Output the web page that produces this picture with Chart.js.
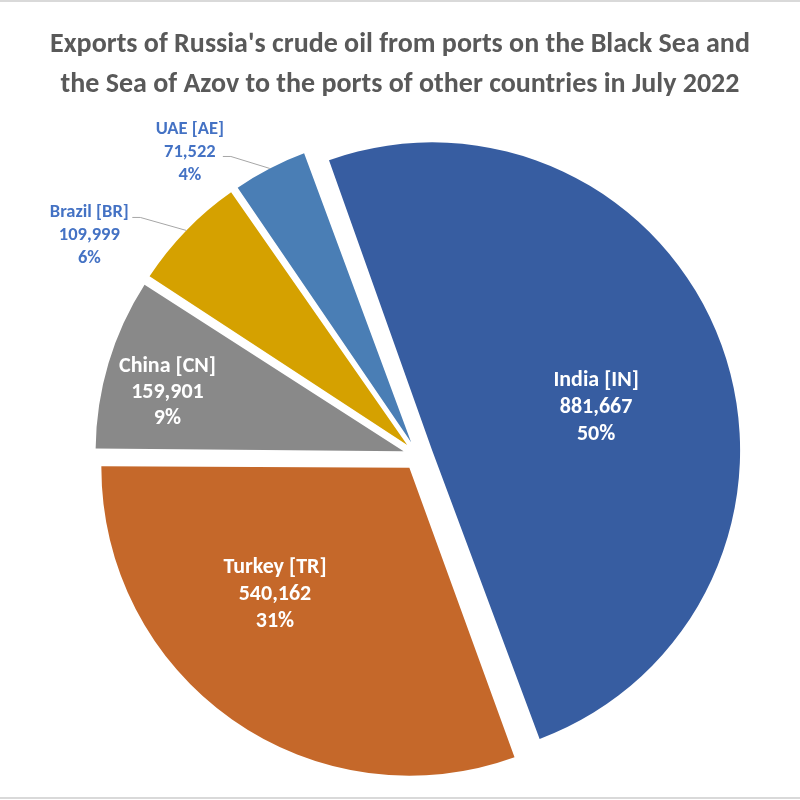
<!DOCTYPE html>
<html>
<head>
<meta charset="utf-8">
<script src="https://cdn.jsdelivr.net/npm/chart.js@4/dist/chart.umd.min.js"></script>
<style>
  html, body { margin: 0; padding: 0; background: #ffffff; }
  #wrap { width: 800px; height: 800px; position: relative; }
</style>
</head>
<body>
<div id="wrap"><canvas id="c" width="800" height="800"></canvas></div>
<script>
// ---- data ----
const titleLines = [
  "Exports of Russia's crude oil from ports on the Black Sea and",
  "the Sea of Azov to the ports of other countries in July 2022"
];
const categories = ["India [IN]", "Turkey [TR]", "China [CN]", "Brazil [BR]", "UAE [AE]"];
const exportValues = [881667, 540162, 159901, 109999, 71522];

// ---- styles ----
const sliceColors = ["#375DA1", "#C5682A", "#898989", "#D5A100", "#4A7EB5"];
const FONT = "Carlito, Calibri, Lato, 'Open Sans', sans-serif";

// label placement per slice (style config, not data)
const labelCfg = [
  { mode: "inside", frac: 0.55, da: 5.5, size: 22, gap: 27 },
  { mode: "inside", frac: 0.60, da: 11.5, size: 22, gap: 27 },
  { mode: "inside", frac: 0.79, da: -2.7, size: 22, gap: 26 },
  { mode: "outside", dx: -97, dy: 5, ax: 43, ay: -18, size: 18.5, gap: 23 },
  { mode: "outside", dx: -80, dy: -16, ax: 33, ay: 4, size: 18.5, gap: 23 }
];

const total = exportValues.reduce((a, b) => a + b, 0);

// Chart.js v4 enlarges wide exploded arcs; keep all slices at the same radius
const radiusFix = {
  id: "radiusFix",
  beforeDatasetsDraw(chart) {
    const meta = chart.getDatasetMeta(0);
    const R = meta.controller.outerRadius;
    meta.data.forEach(el => {
      const t = (el.options.offset || 0) / 4;
      const fix = 1 - Math.sin(Math.min(Math.PI, el.circumference));
      el.outerRadius = R - t * fix;
    });
  }
};

// centred title across the full canvas width, plus thin frame lines top/bottom
const pageTitle = {
  id: "pageTitle",
  afterDraw(chart) {
    const ctx = chart.ctx;
    ctx.save();
    ctx.fillStyle = "#595959";
    ctx.font = "bold 28px " + FONT;
    ctx.textAlign = "center";
    ctx.textBaseline = "middle";
    titleLines.forEach((s, k) => ctx.fillText(s, chart.width / 2, 45 + k * 40));
    ctx.strokeStyle = "#D9D9D9";
    ctx.lineWidth = 2;
    ctx.beginPath();
    ctx.moveTo(0, 1); ctx.lineTo(chart.width, 1);
    ctx.moveTo(0, chart.height - 2); ctx.lineTo(chart.width, chart.height - 2);
    ctx.stroke();
    ctx.restore();
  }
};

const sliceLabels = {
  id: "sliceLabels",
  afterDatasetsDraw(chart) {
    const ctx = chart.ctx;
    const meta = chart.getDatasetMeta(0);
    const R = meta.controller.outerRadius;
    meta.data.forEach((el, i) => {
      const cfg = labelCfg[i];
      const mid = (el.startAngle + el.endAngle) / 2;
      const t = (el.options.offset || 0) / 4;
      const cx = el.x + Math.cos(mid) * t;
      const cy = el.y + Math.sin(mid) * t;
      const v = exportValues[i];
      const lines = [categories[i], v.toLocaleString("en-US"), Math.round(v / total * 100) + "%"];
      let px, py;
      ctx.save();
      if (cfg.mode === "inside") {
        const a = mid + cfg.da * Math.PI / 180;
        px = cx + Math.cos(a) * R * cfg.frac;
        py = cy + Math.sin(a) * R * cfg.frac;
        ctx.fillStyle = "#FFFFFF";
      } else {
        const ex = cx + Math.cos(mid) * R;
        const ey = cy + Math.sin(mid) * R;
        px = ex + cfg.dx;
        py = ey + cfg.dy;
        const axp = px + cfg.ax, ayp = py + cfg.ay;
        ctx.strokeStyle = "#A6A6A6";
        ctx.lineWidth = 1;
        ctx.beginPath();
        ctx.moveTo(ex, ey);
        ctx.lineTo(axp + 8, ayp);
        ctx.lineTo(axp, ayp);
        ctx.stroke();
        ctx.fillStyle = "#4472C4";
      }
      ctx.font = "bold " + cfg.size + "px " + FONT;
      ctx.textAlign = "center";
      ctx.textBaseline = "middle";
      lines.forEach((s, k) => ctx.fillText(s, px, py + (k - 1) * cfg.gap));
      ctx.restore();
    });
  }
};

new Chart(document.getElementById("c"), {
  type: "pie",
  data: {
    labels: categories,
    datasets: [{
      data: exportValues,
      backgroundColor: sliceColors,
      borderWidth: 0,
      offset: 60,
      hoverOffset: 0,
      radius: 308,
      rotation: -20
    }]
  },
  options: {
    responsive: false,
    animation: false,
    layout: { padding: { left: 36, right: 0, top: 111, bottom: 0 } },
    plugins: {
      legend: { display: false },
      tooltip: { enabled: false },
      title: { display: false }
    }
  },
  plugins: [radiusFix, sliceLabels, pageTitle]
});
</script>
</body>
</html>
